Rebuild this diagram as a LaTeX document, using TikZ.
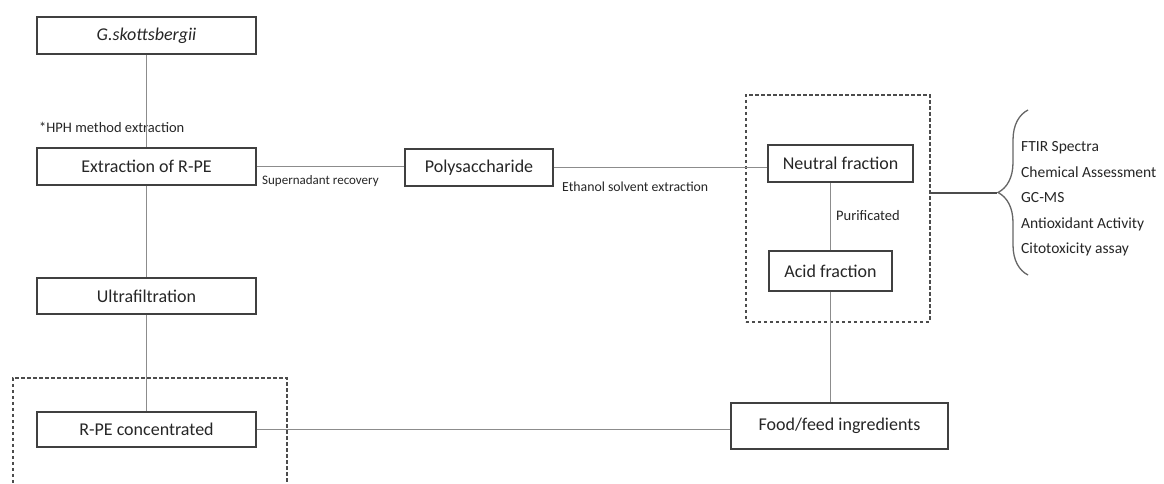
\documentclass[tikz,border=0pt]{standalone}
\usepackage{fontspec}
\setmainfont{Carlito}
\usetikzlibrary{decorations.pathreplacing}

\begin{document}
\begin{tikzpicture}[x=1pt, y=1pt,
                        box/.style={draw=black!75, line width=1.4pt, text=black!85, inner sep=0pt,
                                    font=\fontsize{18}{20}\selectfont},
                        lbl/.style={text=black!85, inner sep=0pt, anchor=west,
                                    font=\fontsize{14}{16}\selectfont},
                        conn/.style={draw=black!45, line width=1.1pt},
                        dashbox/.style={draw=black!70, line width=1.8pt, dash pattern=on 3.5pt off 2.5pt}]

            \clip (0,0) rectangle (1164,-484);
            \fill[white] (0,0) rectangle (1164,-484);

            % dashed groups
            \node[dashbox, anchor=north west, minimum width=274pt, minimum height=160pt] (rpegroup) at (12,-377) {};
            \node[dashbox, anchor=north west, minimum width=184pt, minimum height=227pt] (fracgroup) at (745,-94) {};

            % steps
            \node[box, minimum width=219pt, minimum height=37pt] (gsk) at (146.5,-35.5) {\textit{G.skottsbergii}};
            \node[box, minimum width=219pt, minimum height=37pt] (extract) at (146.5,-166.5) {Extraction of R-PE};
            \node[box, minimum width=219pt, minimum height=36pt] (ultra) at (146.5,-296) {Ultrafiltration};
            \node[box, minimum width=219pt, minimum height=35pt] (rpeconc) at (146.5,-429.5) {R-PE concentrated};
            \node[box, minimum width=148pt, minimum height=37pt] (poly) at (479,-167.5) {Polysaccharide};
            \node[box, minimum width=145pt, minimum height=37pt] (neutral) at (840.5,-163.5) {Neutral fraction};
            \node[box, minimum width=123pt, minimum height=40pt] (acid) at (830.5,-271) {Acid fraction};
            \node[box, minimum width=217pt, minimum height=46pt] (food) at (839.5,-426) {Food/feed ingredients};

            % labels
            \node[lbl, font=\fontsize{14.5}{16}\selectfont] (hph) at (39,-127) {*HPH method extraction};
            \node[lbl, font=\fontsize{13}{15}\selectfont] (superlbl) at (262,-181) {Supernadant recovery};
            \node[lbl, font=\fontsize{13.8}{16}\selectfont] (ethlbl) at (562,-187) {Ethanol solvent extraction};
            \node[lbl, font=\fontsize{14.5}{16}\selectfont] (purlbl) at (836,-216) {Purificated};
            \node[lbl, align=left, font=\fontsize{15.5}{25.5}\selectfont] (assays) at (1021,-199)
                {FTIR Spectra\\Chemical Assessment\\GC-MS\\Antioxidant Activity\\Citotoxicity assay};

            % connectors
            \draw[conn] (gsk) -- (extract);
            \draw[conn] (extract) -- (ultra);
            \draw[conn] (ultra) -- (rpeconc);
            \draw[conn] (extract.east) -- (extract.east -| poly.west);
            \draw[conn] (poly.east) -- (poly.east -| neutral.west);
            \draw[conn] (acid.north) -- (acid.north |- neutral.south);
            \draw[conn] (acid.south) -- (acid.south |- food.north);
            \draw[conn] (rpeconc.east) -- (rpeconc.east -| food.west);

            \coordinate (tip) at (997,-193);
            \draw[conn, draw=black!70] (tip -| fracgroup.east) -- (tip);
            \draw[draw=black!60, line width=1.3pt, decorate, decoration={brace, amplitude=30pt}]
                (1028,-275) -- (1028,-110);

\end{tikzpicture}
\end{document}
